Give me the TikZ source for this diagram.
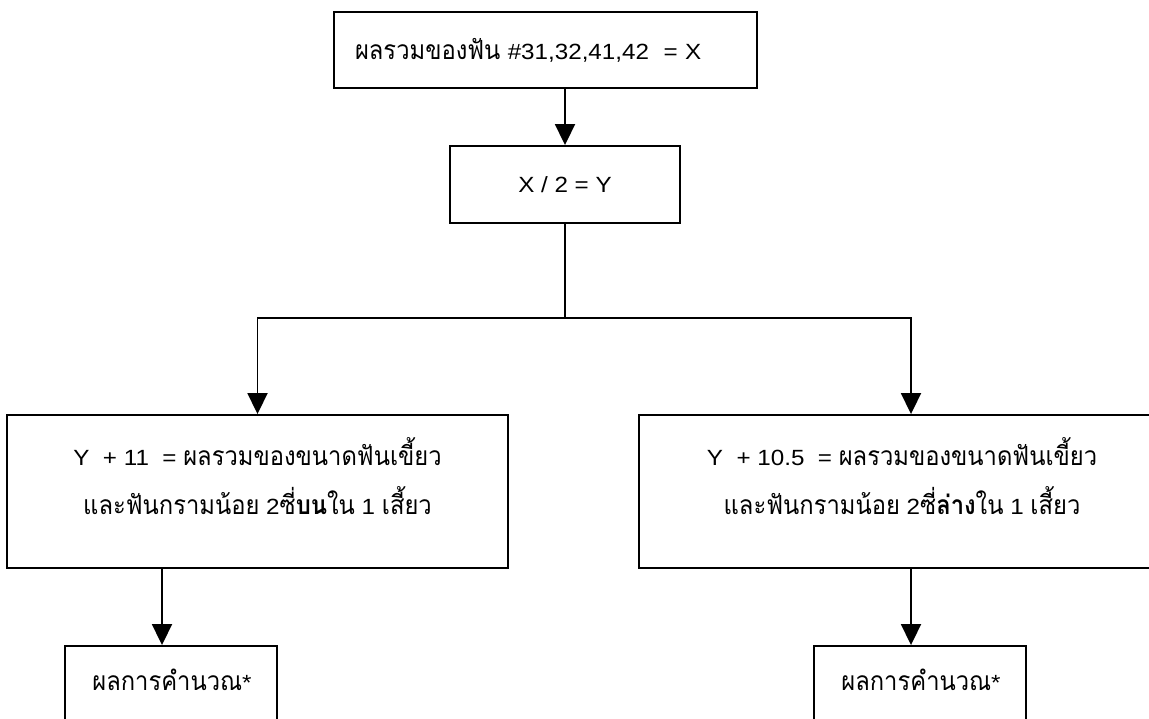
\documentclass[tikz,border=0pt]{standalone}
\usepackage{fontspec}
\setmainfont{Liberation Sans}[FakeStretch=1.1]
\newfontfamily\thaifont[Script=Thai, Scale=1.2, FakeStretch=0.9]{Loma}
\usetikzlibrary{arrows.meta}
\newcommand{\thtxt}[1]{{\thaifont #1}}
\tikzset{
  boxstyle/.style={draw, line width=1.9pt, rectangle, inner sep=0pt},
  labelstyle/.style={inner sep=0pt, align=center, font=\fontsize{22}{49}\selectfont},
  link/.style={line width=1.9pt},
  arr/.style={line width=1.9pt, -{Triangle[width=20pt,length=21pt]}},
}
\begin{document}
\begin{tikzpicture}[x=1pt, y=-1pt]
\useasboundingbox (0,0) rectangle (1149,718);
\clip (0,0) rectangle (1149,718);
\fill[white] (0,0) rectangle (1149,718);

% first step: sum of the four lower incisors
\node[boxstyle, minimum width=423pt, minimum height=76pt, text width=381pt,
      align=left, font=\fontsize{22}{26}\selectfont] (sum) at (545.5,50)
  {\thtxt{ผลรวมของฟัน} \#31,32,41,42\ \ = X};

% halving step
\node[boxstyle, minimum width=230pt, minimum height=77pt,
      font=\fontsize{22}{26}\selectfont] (half) at (565,184.5) {X / 2 = Y};

% upper and lower arch estimates
\node[boxstyle, minimum width=501pt, minimum height=153pt] (upper) at (257.5,491.5) {};
\node[labelstyle] (uppertxt) at (257.5,476)
  {Y\ \ + 11\ \ = \thtxt{ผลรวมของขนาดฟันเขี้ยว}\\
   \thtxt{และฟันกรามน้อย} 2\thtxt{ซี่\textbf{บน}ใน} 1 \thtxt{เสี้ยว}};

\node[boxstyle, minimum width=544pt, minimum height=153pt] (lower) at (911,491.5) {};
\node[labelstyle] (lowertxt) at (902,476)
  {Y\ \ + 10.5\ \ = \thtxt{ผลรวมของขนาดฟันเขี้ยว}\\
   \thtxt{และฟันกรามน้อย} 2\thtxt{ซี่\textbf{ล่าง}ใน} 1 \thtxt{เสี้ยว}};

% results
\node[boxstyle, minimum width=212pt, minimum height=110pt] (resup) at (171,701) {};
\node[labelstyle] (resuptxt) at (172,680) {\thtxt{ผลการคำนวณ}*};
\node[boxstyle, minimum width=212pt, minimum height=110pt] (reslow) at (920,701) {};
\node[labelstyle] (reslowtxt) at (921,680) {\thtxt{ผลการคำนวณ}*};

% connectors
\coordinate (split) at (565,318);
\draw[arr] (half |- sum.south) -- (half.north);
\draw[link] (half.south) -- (split);
\draw[arr] (split) -| (upper.north);
\draw[arr] (split) -| (lower.north);
\coordinate (upfoot) at (162,568);
\coordinate (lowfoot) at (911,568);
\draw[arr] (upfoot) -- (upfoot |- resup.north);
\draw[arr] (lowfoot) -- (lowfoot |- reslow.north);
\end{tikzpicture}
\end{document}
